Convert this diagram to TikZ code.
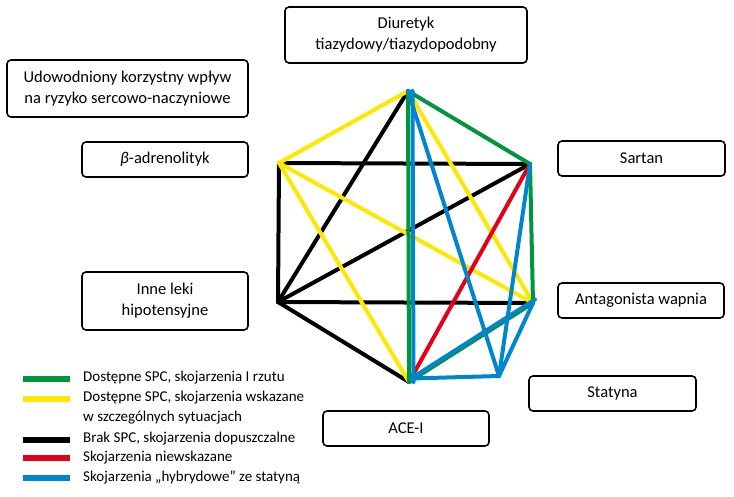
\documentclass[tikz,border=0pt]{standalone}
\usepackage{fontspec}
\setmainfont{Carlito}
\begin{document}
\begin{tikzpicture}[x=1pt,y=-1pt,
  box/.style={draw=black, line width=1.6pt, rounded corners=4pt, align=center, font=\fontsize{16.5}{21}\selectfont, inner sep=0pt},
  edge/.style={line width=4pt, line cap=round, line join=round},
  legline/.style={line width=5.5pt},
  legtext/.style={anchor=mid west, font=\fontsize{15}{20}\selectfont, inner sep=0pt}]
\definecolor{cgreen}{RGB}{0,150,64}
\definecolor{cyellow}{RGB}{255,232,0}
\definecolor{cred}{RGB}{228,0,22}
\definecolor{cblue}{RGB}{0,134,204}
\useasboundingbox (0,0) rectangle (734,496);
% boxes
\node[box, minimum width=242pt, minimum height=56pt] (diu) at (406,35) {Diuretyk\\tiazydowy/tiazydopodobny};
\node[box, minimum width=241pt, minimum height=57pt] (udo) at (127.5,88.5) {Udowodniony korzystny wpływ\\na ryzyko sercowo-naczyniowe};
\node[box, minimum width=166pt, minimum height=35pt] (beta) at (165,159.5) {{\itshape β}-adrenolityk};
\node[box, minimum width=166pt, minimum height=58pt] (inne) at (165,301) {Inne leki\\hipotensyjne};
\node[box, minimum width=167pt, minimum height=35pt] (sart) at (641.5,158.5) {Sartan};
\node[box, minimum width=166pt, minimum height=35pt] (anta) at (641,300.5) {Antagonista wapnia};
\node[box, minimum width=167pt, minimum height=35pt] (staty) at (612.5,393.5) {Statyna};
\node[box, minimum width=166pt, minimum height=35pt] (ace) at (406,428.5) {ACE-I};
% vertices
\coordinate (D) at (408,91);
\coordinate (B) at (279,163);
\coordinate (S) at (530,164);
\coordinate (I) at (278,302);
\coordinate (A) at (533,303);
\coordinate (E) at (409,382);
\coordinate (T) at (499,376);
% black
\draw[edge, black] (D) -- (I);
\draw[edge, black] (B) -- (S);
\draw[edge, black] (B) -- (I);
\draw[edge, black] (S) -- (I);
\draw[edge, black] (I) -- (A);
\draw[edge, black] (I) -- (E);
% yellow
\draw[edge, cyellow] (D) -- (B);
\draw[edge, cyellow] (D) -- (A);
\draw[edge, cyellow] (B) -- (A);
\draw[edge, cyellow] (B) -- (E);
% red
\draw[edge, cred] (S) -- (E);
% green
\draw[edge, cgreen] (D) -- (E);
\draw[edge, cgreen] (D) -- (S);
\draw[edge, cgreen] (S) -- (A);
\draw[edge, cgreen] (A) -- (E);
% blue
\draw[edge, cblue] ([xshift=4.5pt]D) -- ([xshift=4.5pt]E);
\draw[edge, cblue] ([xshift=2pt,yshift=3.5pt]A) -- ([xshift=2pt,yshift=3.5pt]E);
\draw[edge, cblue] (D) -- (T);
\draw[edge, cblue] (S) -- (T);
\draw[edge, cblue] (A) -- (T);
\draw[edge, cblue] ([xshift=2pt,yshift=3.5pt]E) -- (T);
% legend
\coordinate (l1a) at (23,379); \coordinate (l1b) at (70,379);
\coordinate (l2a) at (23,399); \coordinate (l2b) at (70,399);
\coordinate (l3a) at (23,440); \coordinate (l3b) at (70,440);
\coordinate (l4a) at (23,458); \coordinate (l4b) at (70,458);
\coordinate (l5a) at (23,478); \coordinate (l5b) at (70,478);
\draw[legline, cgreen] (l1a) -- (l1b);
\draw[legline, cyellow] (l2a) -- (l2b);
\draw[legline, black] (l3a) -- (l3b);
\draw[legline, cred] (l4a) -- (l4b);
\draw[legline, cblue] (l5a) -- (l5b);
\node[legtext] (t1) at (83,379) {Dostępne SPC, skojarzenia I rzutu};
\node[legtext] (t2) at (83,399) {Dostępne SPC, skojarzenia wskazane};
\node[legtext] (t2b) at (83,419) {w szczególnych sytuacjach};
\node[legtext] (t3) at (83,440) {Brak SPC, skojarzenia dopuszczalne};
\node[legtext] (t4) at (83,459) {Skojarzenia niewskazane};
\node[legtext] (t5) at (83,479) {Skojarzenia „hybrydowe” ze statyną};
\end{tikzpicture}
\end{document}
